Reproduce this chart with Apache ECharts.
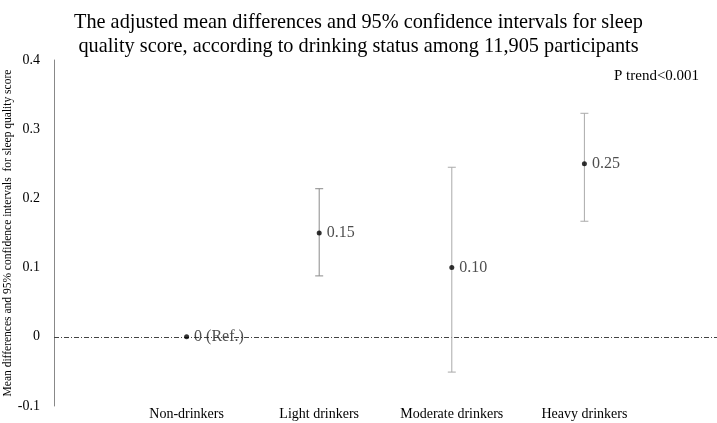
<!DOCTYPE html>
<html><head><meta charset="utf-8">
<script src="https://cdn.jsdelivr.net/npm/echarts@6/dist/echarts.min.js"></script>
<style>html,body{margin:0;padding:0;background:#fff}#c{width:717px;height:423px}</style>
</head><body><div id="c"></div>
<script>
const categories = ['Non-drinkers', 'Light drinkers', 'Moderate drinkers', 'Heavy drinkers'];
const means = [0, 0.15, 0.10, 0.25];
const lower = [null, 0.088, -0.051, 0.167];
const upper = [null, 0.214, 0.245, 0.323];
const pointLabels = ['0 (Ref.)', '0.15', '0.10', '0.25'];
const yTicks = [-0.1, 0, 0.1, 0.2, 0.3, 0.4];
const serif = '"Liberation Serif", "Times New Roman", serif';

const pos = categories.map((c, i) => i + 1);
const pointData = pos.map((x, i) => [x, means[i]]);
const barData = pos.map((x, i) => [x, lower[i], upper[i]]).filter(d => d[1] !== null);
const barColors = ['#8a8a8a', '#aaaaaa', '#aaaaaa'];

const chart = echarts.init(document.getElementById('c'), null, {renderer: 'canvas'});
chart.setOption({
  animation: false,
  title: {
    text: 'The adjusted mean differences and 95% confidence intervals for sleep\nquality score, according to drinking status among 11,905 participants',
    left: 'center', top: 6,
    textStyle: {fontFamily: serif, fontSize: 20.3, fontWeight: 'normal', color: '#000', lineHeight: 24}
  },
  graphic: [{
    type: 'text', left: 614, top: 69,
    style: {text: 'P trend<0.001', font: '15px ' + serif, fill: '#000'}
  }],
  grid: {left: 54, right: 0, top: 60, bottom: 17, containLabel: false, outerBoundsMode: 'none'},
  xAxis: {
    type: 'value', min: 0, max: 5, interval: 1,
    axisLine: {show: false}, axisTick: {show: false}, splitLine: {show: false},
    axisLabel: {
      margin: 1, fontFamily: serif, fontSize: 14, color: '#000',
      formatter: v => (v >= 1 && v <= categories.length) ? categories[v - 1] : ''
    }
  },
  yAxis: {
    type: 'value', min: -0.1, max: 0.4, interval: 0.1,
    name: 'Mean differences and 95% confidence intervals  for sleep quality score',
    nameLocation: 'middle', nameGap: 40, nameRotate: 90, nameMoveOverlap: false,
    nameTextStyle: {fontFamily: serif, fontSize: 11.5, color: '#000'},
    axisLine: {show: true, lineStyle: {color: '#888', width: 1}},
    axisTick: {show: false}, splitLine: {show: false},
    axisLabel: {
      fontFamily: serif, fontSize: 14, color: '#000', margin: 14,
      formatter: v => { const r = Math.round(v * 10) / 10; return r === 0 ? '0' : r.toFixed(1); }
    }
  },
  series: [
    {
      type: 'custom',
      data: barData,
      z: 2,
      renderItem: (params, api) => {
        const x = api.value(0);
        const lo = api.coord([x, api.value(1)]);
        const hi = api.coord([x, api.value(2)]);
        const col = barColors[params.dataIndex];
        const cap = 4;
        const st = {stroke: col, lineWidth: 1};
        return {
          type: 'group',
          children: [
            {type: 'line', shape: {x1: lo[0], y1: lo[1], x2: hi[0], y2: hi[1]}, style: st},
            {type: 'line', shape: {x1: lo[0] - cap, y1: lo[1], x2: lo[0] + cap, y2: lo[1]}, style: st},
            {type: 'line', shape: {x1: hi[0] - cap, y1: hi[1], x2: hi[0] + cap, y2: hi[1]}, style: st}
          ]
        };
      }
    },
    {
      type: 'scatter',
      data: pointData,
      symbol: 'circle', symbolSize: 5, z: 5,
      itemStyle: {color: '#000'},
      label: {
        show: true, position: 'right', distance: 5,
        fontFamily: serif, fontSize: 16, color: '#222',
        formatter: p => pointLabels[p.dataIndex]
      },
      markLine: {
        silent: true, symbol: 'none', z: 1,
        label: {show: false},
        lineStyle: {color: '#444', width: 1, type: [5, 2, 1, 2]},
        data: [{yAxis: 0}]
      }
    }
  ]
});
</script></body></html>
